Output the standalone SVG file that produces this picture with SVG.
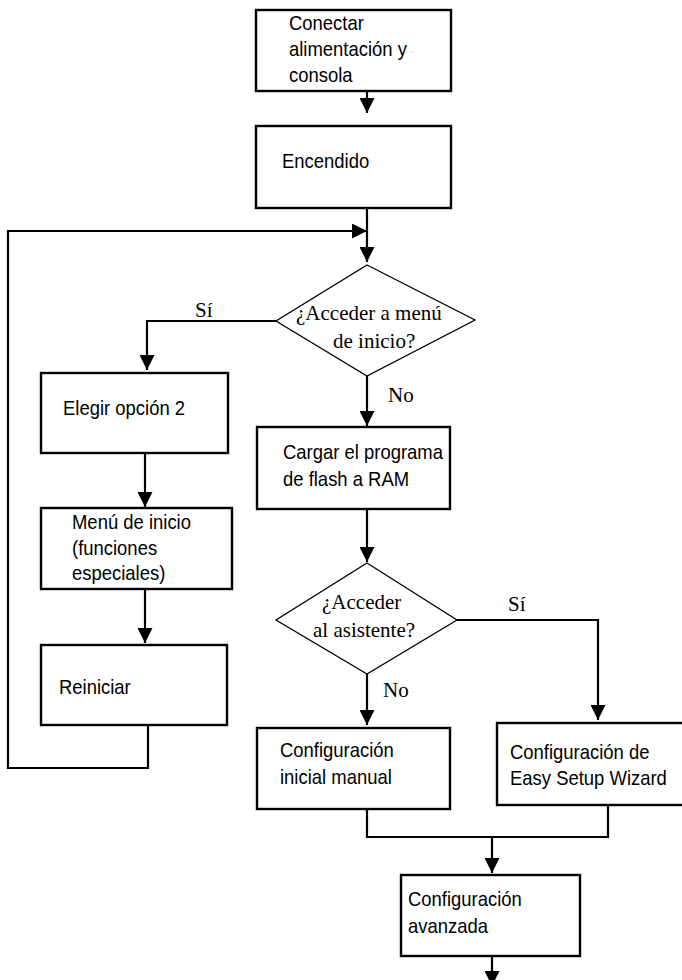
<svg xmlns="http://www.w3.org/2000/svg" width="682" height="980" viewBox="0 0 682 980">
<style>
.box{fill:#fff;stroke:#000;stroke-width:2.4}
.dia{fill:#fff;stroke:#000;stroke-width:1.3}
.t{font-family:"Liberation Sans",Arial,sans-serif;font-size:20.5px;fill:#000}
.s{font-family:"Liberation Serif","Times New Roman",serif;font-size:21px;fill:#000}
.c{fill:none;stroke:#000;stroke-width:2.2}
</style>
<defs>
<marker id="ah" viewBox="0 0 15 15" refX="15" refY="7.5" markerWidth="15" markerHeight="15" markerUnits="userSpaceOnUse" orient="auto">
<path d="M0,0 L15,7.5 L0,15 z" fill="#000"/>
</marker>
</defs>
<rect width="682" height="980" fill="#fff"/>
<g id="connectors">
<path class="c" d="M367,91 V113" marker-end="url(#ah)"/>
<path class="c" d="M367,208 V262" marker-end="url(#ah)"/>
<path class="c" d="M148,725 V768 H8 V231 H367" marker-end="url(#ah)"/>
<path class="c" d="M276,321 H147 V370" marker-end="url(#ah)"/>
<path class="c" d="M367,376 V426" marker-end="url(#ah)"/>
<path class="c" d="M145,453 V507" marker-end="url(#ah)"/>
<path class="c" d="M145,589 V643" marker-end="url(#ah)"/>
<path class="c" d="M367,509 V562" marker-end="url(#ah)"/>
<path class="c" d="M457,620 H598 V720" marker-end="url(#ah)"/>
<path class="c" d="M367,674 V725" marker-end="url(#ah)"/>
<path class="c" d="M367,809 V837 H608 V805"/>
<path class="c" d="M492,837 V873" marker-end="url(#ah)"/>
<path class="c" d="M492,956 V986" marker-end="url(#ah)"/>
<text class="s" x="195" y="317">Sí</text>
<text class="s" x="388" y="402">No</text>
<text class="s" x="508" y="611">Sí</text>
<text class="s" x="383" y="697">No</text>
</g>
<g id="n1"><rect class="box" x="256" y="10" width="195" height="81"/>
<text class="t" transform="translate(289,30) scale(0.9,1)">Conectar</text><text class="t" transform="translate(289,56) scale(0.9,1)">alimentación y</text><text class="t" transform="translate(289,82) scale(0.9,1)">consola</text></g>
<g id="n2"><rect class="box" x="256" y="126" width="195" height="82"/>
<text class="t" transform="translate(282,168) scale(0.9,1)">Encendido</text></g>
<g id="d1"><polygon class="dia" points="367,265 475,320 367,376 276,321"/>
<text class="s" x="296" y="320">¿Acceder a menú</text><text class="s" x="333" y="348">de inicio?</text></g>
<g id="n3"><rect class="box" x="41" y="373" width="187" height="80"/>
<text class="t" transform="translate(63,415) scale(0.9,1)">Elegir opción 2</text></g>
<g id="n4"><rect class="box" x="41" y="508" width="191" height="81"/>
<text class="t" transform="translate(72,529) scale(0.9,1)">Menú de inicio</text><text class="t" transform="translate(72,555) scale(0.9,1)">(funciones</text><text class="t" transform="translate(72,580) scale(0.9,1)">especiales)</text></g>
<g id="n5"><rect class="box" x="41" y="645" width="186" height="80"/>
<text class="t" transform="translate(59,694) scale(0.9,1)">Reiniciar</text></g>
<g id="n6"><rect class="box" x="257" y="427" width="193" height="82"/>
<text class="t" transform="translate(283,459) scale(0.9,1)">Cargar el programa</text><text class="t" transform="translate(283,486) scale(0.9,1)">de flash a RAM</text></g>
<g id="d2"><polygon class="dia" points="367,563 457,620 367,674 276,620"/>
<text class="s" x="322" y="609">¿Acceder</text><text class="s" x="313" y="637">al asistente?</text></g>
<g id="n7"><rect class="box" x="257" y="728" width="193" height="81"/>
<text class="t" transform="translate(280,757) scale(0.9,1)">Configuración</text><text class="t" transform="translate(280,784) scale(0.9,1)">inicial manual</text></g>
<g id="n8"><rect class="box" x="497" y="723" width="200" height="82"/>
<text class="t" transform="translate(510,759) scale(0.9,1)">Configuración de</text><text class="t" transform="translate(510,785) scale(0.9,1)">Easy Setup Wizard</text></g>
<g id="n9"><rect class="box" x="401" y="875" width="179" height="81"/>
<text class="t" transform="translate(408,906) scale(0.9,1)">Configuración</text><text class="t" transform="translate(408,933) scale(0.9,1)">avanzada</text></g>
</svg>
